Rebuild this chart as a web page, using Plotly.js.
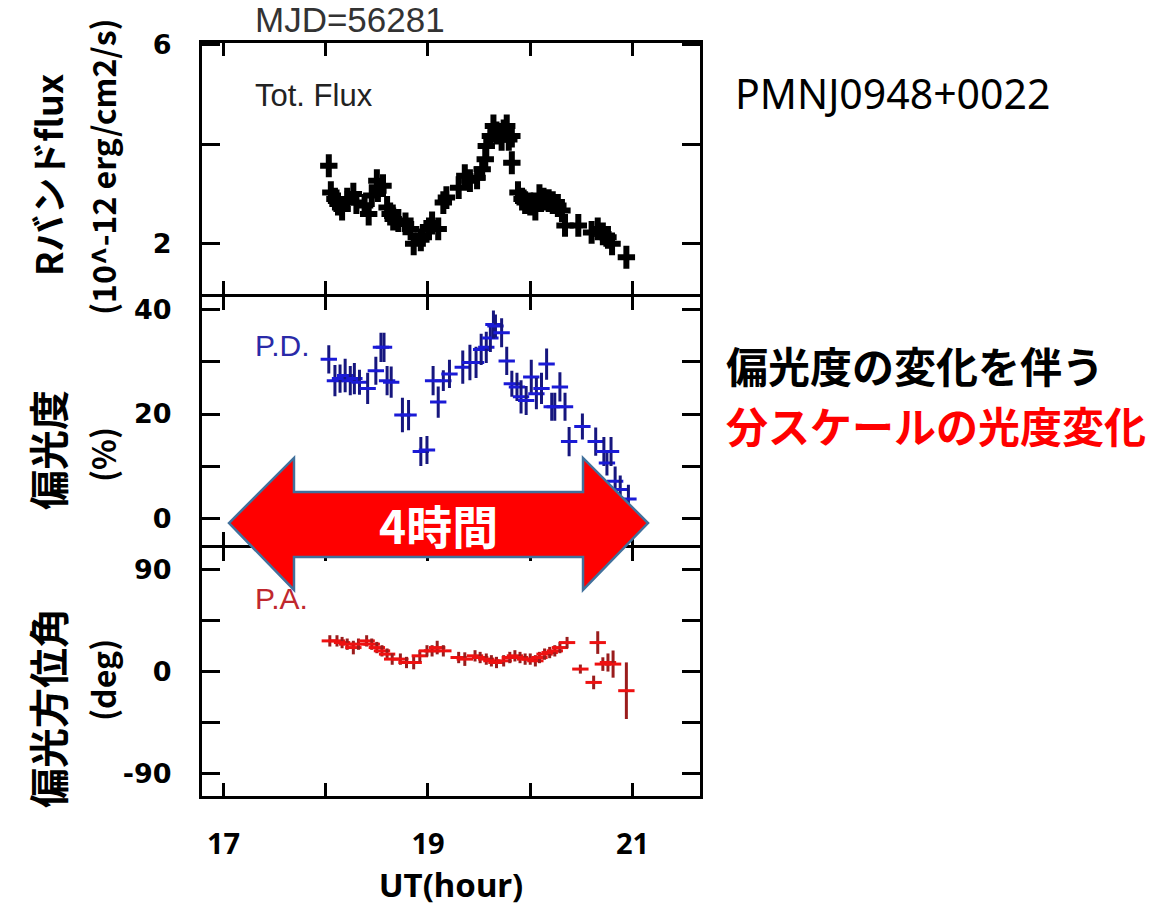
<!DOCTYPE html>
<html>
<head>
<meta charset="utf-8">
<script src="https://cdn.plot.ly/plotly-3.0.1.min.js"></script>
<style>html,body{margin:0;padding:0;background:#fff;}#chart{width:1176px;height:909px;}</style>
</head>
<body>
<div id="chart"></div>
<script>
// ---------------- data ----------------
const hourTicks = [17, 18, 19, 20, 21];
const hourTickText = ['17', '', '19', '', '21'];

// Total flux, R band (10^-12 erg/cm2/s)
const fluxHour = [18.03,18.05,18.09,18.12,18.16,18.21,18.27,18.30,18.38,18.42,18.45,18.50,18.51,18.56,18.60,18.63,18.66,18.71,18.78,18.83,18.86,18.93,18.95,19.01,19.04,19.10,19.15,19.18,19.30,19.36,19.41,19.48,19.53,19.56,19.57,19.61,19.64,19.67,19.72,19.74,19.77,19.79,19.82,19.82,19.88,19.92,19.95,20.00,20.05,20.09,20.13,20.18,20.22,20.27,20.31,20.34,20.47,20.60,20.66,20.71,20.76,20.80,20.94];
const fluxVal  = [3.57,3.03,2.90,2.80,2.70,2.90,3.00,2.83,2.77,2.60,2.97,3.27,3.07,3.17,2.73,2.60,2.50,2.47,2.40,2.30,2.00,2.08,2.17,2.30,2.42,2.30,2.83,2.93,3.13,3.37,3.27,3.33,3.50,3.70,3.97,4.17,4.37,4.23,4.10,4.27,4.37,4.10,4.17,3.63,3.03,2.90,2.83,2.80,2.70,2.97,2.90,2.87,2.83,2.77,2.67,2.37,2.37,2.23,2.30,2.20,2.13,2.00,1.73];

// Polarization degree (%)
const pdHour = [18.03,18.09,18.14,18.19,18.24,18.28,18.33,18.41,18.49,18.54,18.57,18.60,18.64,18.75,18.81,18.93,18.99,19.05,19.10,19.15,19.21,19.34,19.41,19.47,19.52,19.57,19.61,19.64,19.66,19.72,19.77,19.82,19.87,19.91,19.96,20.01,20.06,20.11,20.16,20.21,20.24,20.29,20.34,20.38,20.51,20.64,20.72,20.75,20.79,20.83,20.88,20.96];
const pdVal  = [30.5,26.4,26.8,27.4,26.4,26.8,26.1,24.9,28.3,32.8,32.8,26.4,26.1,19.8,19.8,12.8,13.1,26.4,22.3,26.4,27.7,29.0,29.9,29.9,32.4,32.8,34.6,37.2,36.9,35.6,30.2,25.8,25.2,23.3,22.6,27.1,23.9,24.9,29.6,21.4,21.4,25.2,21.4,14.7,17.6,14.7,12.8,10.6,12.8,7.1,5.5,3.7];
const pdErr  = [2.7,3.0,2.7,3.2,2.8,3.0,2.4,3.0,2.7,2.8,2.8,2.8,3.0,3.3,2.9,2.8,2.7,2.8,3.0,2.0,2.7,3.2,3.4,3.0,3.0,3.0,2.7,2.7,2.2,2.8,2.7,2.5,2.7,3.2,2.8,3.3,3.0,3.0,3.0,2.7,2.7,2.8,2.7,2.8,2.5,2.7,2.8,2.4,2.8,2.8,2.7,2.7];

// Polarization angle (deg)
const paHour = [18.04,18.11,18.16,18.21,18.27,18.32,18.40,18.45,18.50,18.55,18.60,18.65,18.73,18.79,18.86,18.92,18.99,19.04,19.09,19.15,19.30,19.36,19.46,19.51,19.57,19.62,19.67,19.74,19.80,19.85,19.90,19.95,20.00,20.05,20.09,20.14,20.19,20.24,20.29,20.36,20.49,20.62,20.66,20.71,20.76,20.81,20.94];
const paVal  = [27.0,27.0,25.5,24.1,21.1,24.1,27.0,24.1,21.1,18.2,15.3,10.9,10.9,7.9,7.9,13.8,18.2,18.2,21.1,18.2,12.3,10.9,13.8,12.3,10.9,9.4,7.9,9.4,12.3,13.8,12.3,10.9,10.9,9.4,12.3,15.3,16.7,18.2,21.1,25.5,2.1,-9.7,25.5,6.5,7.9,6.5,-17.0];
const paErr  = [5,5,5,5,6,5,5,5,5,5,5,5,5,5,6,5,5,5,6,5,5,6,5,5,5,5,5,5,5,5,5,5,5,5,5,5,5,5,5,5,4,6,10,6,8,12,25];

// ---------------- layout helpers (pixel placement of decorations) ----------------
const W = 1176, H = 909;
const M = {l: 202, r: 476, t: 43, b: 113};
const PW = W - M.l - M.r, PH = H - M.t - M.b;
const px = p => (p - M.l) / PW;
const py = p => (H - M.b - p) / PH;
const LW = 3;                 // axis line width
const ov = (LW / 2) / PH;     // half-line gap so neighbouring panel borders coincide

const CJK = '"Noto Sans CJK JP", "Noto Sans", sans-serif';
const ARIAL = '"Liberation Sans", Arial, sans-serif';
const TICKF = {family: '"DejaVu Sans", sans-serif', size: 27, color: '#000', weight: 700};

function ann(x, y, text, font, extra) {
  return Object.assign({xref: 'paper', yref: 'paper', x: px(x), y: py(y), text: text,
    showarrow: false, font: font, xanchor: 'center', yanchor: 'middle'}, extra || {});
}

const xBase = {
  range: [16.79, 21.66], tickmode: 'array', tickvals: hourTicks, ticktext: hourTickText,
  ticks: 'inside', ticklen: 13, tickwidth: 3, tickcolor: '#000',
  showline: true, linewidth: LW, linecolor: '#000', mirror: 'allticks',
  showgrid: false, zeroline: false, fixedrange: true
};
const yBase = {
  ticks: 'inside', ticklen: 18, tickwidth: 3, tickcolor: '#000',
  showline: true, linewidth: LW, linecolor: '#000', mirror: 'allticks',
  showgrid: false, zeroline: false, tickfont: TICKF, ticklabelstandoff: 22, fixedrange: true
};

const dTop = [0.6653 + ov, 1], dMid = [0.3313 + ov, 0.6653 - ov], dBot = [0, 0.3313 - ov];

const traces = [
  {x: fluxHour, y: fluxVal, xaxis: 'x', yaxis: 'y', type: 'scatter', mode: 'markers',
   marker: {size: 1, color: '#000'},
   error_x: {type: 'constant', value: 0.085, thickness: 6, width: 0, color: '#000'},
   error_y: {type: 'constant', value: 0.23, thickness: 6, width: 0, color: '#000'},
   hoverinfo: 'skip'},
  {x: pdHour, y: pdVal, xaxis: 'x2', yaxis: 'y2', type: 'scatter', mode: 'markers',
   marker: {size: 1, color: '#1a1ad6'},
   error_x: {type: 'constant', value: 0.08, thickness: 3, width: 0, color: '#1a1ad6'},
   error_y: {type: 'data', array: pdErr, thickness: 3, width: 0, color: '#16167e'},
   hoverinfo: 'skip'},
  {x: paHour, y: paVal, xaxis: 'x3', yaxis: 'y3', type: 'scatter', mode: 'markers',
   marker: {size: 1, color: '#ee1111'},
   error_x: {type: 'constant', value: 0.08, thickness: 3, width: 0, color: '#ee1111'},
   error_y: {type: 'data', array: paErr, thickness: 3, width: 0, color: '#9a1c1c'},
   hoverinfo: 'skip'}
];

// double-headed arrow outline, pixel coordinates
const arrowPts = [[229,523],[294,458],[294,492],[583,492],[583,458],[648,523],[583,590],[583,557],[294,557],[294,590]];
const arrowPath = 'M ' + arrowPts.map(p => px(p[0]).toFixed(4) + ',' + py(p[1]).toFixed(4)).join(' L ') + ' Z';

const layout = {
  width: W, height: H, margin: M, showlegend: false,
  paper_bgcolor: '#fff', plot_bgcolor: 'rgba(0,0,0,0)',
  xaxis:  Object.assign({}, xBase, {anchor: 'y', showticklabels: false}),
  xaxis2: Object.assign({}, xBase, {anchor: 'y2', showticklabels: false, matches: 'x'}),
  xaxis3: Object.assign({}, xBase, {anchor: 'y3', showticklabels: true, matches: 'x',
    tickfont: {family: '"Noto Sans", sans-serif', size: 29, color: '#000', weight: 700},
    ticklabelstandoff: 20,
    title: {text: 'UT(hour)', font: {family: '"Noto Sans", sans-serif', size: 33, color: '#000', weight: 700}, standoff: 14}}),
  yaxis:  Object.assign({}, yBase, {domain: dTop, anchor: 'x', range: [1.0, 6.04],
    tickmode: 'array', tickvals: [2, 4, 6], ticktext: ['2', '', '6']}),
  yaxis2: Object.assign({}, yBase, {domain: dMid, anchor: 'x2', range: [-5.16, 42.56],
    tickmode: 'array', tickvals: [0, 10, 20, 30, 40], ticktext: ['0', '', '20', '', '40']}),
  yaxis3: Object.assign({}, yBase, {domain: dBot, anchor: 'x3', range: [-110, 109],
    tickmode: 'array', tickvals: [-90, -45, 0, 45, 90], ticktext: ['-90', '', '0', '', '90']}),
  shapes: [
    {type: 'path', xref: 'paper', yref: 'paper', path: arrowPath, layer: 'above',
     fillcolor: '#ff0000', line: {color: '#41719c', width: 2.5}}
  ],
  annotations: [
    ann(253, 19, 'MJD=56281', {family: ARIAL, size: 35, color: '#333'}, {xanchor: 'left'}),
    ann(253, 95, 'Tot. Flux', {family: ARIAL, size: 31, color: '#222'}, {xanchor: 'left'}),
    ann(253, 345, 'P.D.', {family: ARIAL, size: 30, color: '#2a2aa8'}, {xanchor: 'left'}),
    ann(253, 598, 'P.A.', {family: ARIAL, size: 30, color: '#c0282e'}, {xanchor: 'left'}),
    ann(47, 175, 'Rバンドflux', {family: CJK, size: 36, color: '#000', weight: 700}, {textangle: -90}),
    ann(102, 167, '(10^-12 erg/cm2/s)', {family: CJK, size: 32, color: '#000', weight: 700}, {textangle: -90}),
    ann(47, 450, '偏光度', {family: CJK, size: 40, color: '#000', weight: 700}, {textangle: -90}),
    ann(102, 455, '(%)', {family: CJK, size: 32, color: '#000', weight: 700}, {textangle: -90}),
    ann(47, 708, '偏光方位角', {family: CJK, size: 40, color: '#000', weight: 700}, {textangle: -90}),
    ann(102, 680, '(deg)', {family: CJK, size: 32, color: '#000', weight: 700}, {textangle: -90}),
    ann(733, 93, 'PMNJ0948+0022', {family: '"Noto Sans", sans-serif', size: 41, color: '#000'}, {xanchor: 'left'}),
    ann(724, 365, '偏光度の変化を伴う', {family: CJK, size: 42, color: '#000', weight: 700}, {xanchor: 'left'}),
    ann(724, 424, '分スケールの光度変化', {family: CJK, size: 42, color: '#ff0000', weight: 700}, {xanchor: 'left'}),
    ann(438, 524, '4時間', {family: CJK, size: 46, color: '#fff', weight: 700})
  ]
};

Plotly.newPlot('chart', traces, layout, {displayModeBar: false, staticPlot: true});
</script>
</body>
</html>
